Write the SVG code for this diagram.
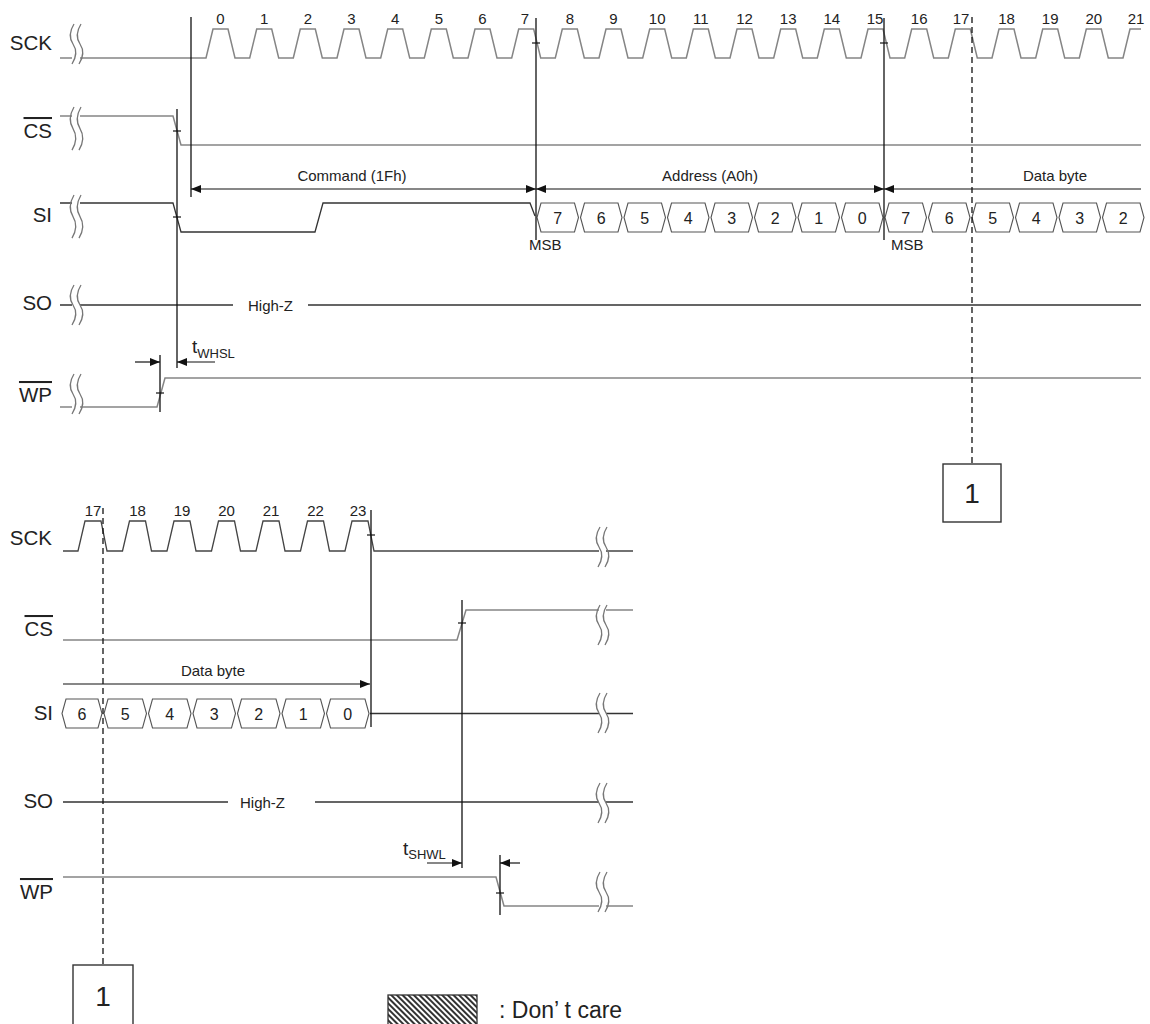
<svg xmlns="http://www.w3.org/2000/svg" xmlns:xlink="http://www.w3.org/1999/xlink" width="1150" height="1024" viewBox="0 0 1150 1024">
<style>
text{font-family:"Liberation Sans",Arial,sans-serif;fill:#222}
.lbl{font-size:20.5px;text-anchor:end}
.ov{text-decoration:overline}
.num{font-size:15px;text-anchor:middle}
.cap{font-size:15px}
.mid{text-anchor:middle}
.dig{font-size:16px;text-anchor:middle}
.gs{fill:none;stroke:#858585;stroke-width:1.5}
.ds{fill:none;stroke:#333;stroke-width:1.3}
.cell{fill:#fff;stroke:#555;stroke-width:1.1}
.brk{fill:none;stroke:#777;stroke-width:1.3}
.vl{stroke:#111;stroke-width:1.3;fill:none}
.tk{stroke:#111;stroke-width:1.2}
.dash{stroke:#111;stroke-width:1.3;stroke-dasharray:6 4;fill:none}
.arr{stroke:#111;stroke-width:1.2;fill:none}
.box{fill:#fff;stroke:#333;stroke-width:1.4}
</style>
<defs>
<marker id="ah" viewBox="0 0 10 8" markerWidth="10" markerHeight="8" refX="10" refY="4" orient="auto-start-reverse" markerUnits="userSpaceOnUse">
<path d="M0,0 L10,4 L0,8 z" fill="#111"/>
</marker>
<path id="brk" d="M4,0 C-1,8 -1,14 3,20 C7,26 7,32 2,40"/>
<pattern id="hatch" width="4" height="4" patternUnits="userSpaceOnUse" patternTransform="rotate(-45)">
<rect width="4" height="4" fill="#fff"/>
<rect width="2" height="4" fill="#333"/>
</pattern>
</defs>
<rect width="1150" height="1024" fill="#fff"/>

<!-- ===== TOP SECTION ===== -->
<g id="sck-top">
<text class="lbl" x="52" y="50">SCK</text>
<path class="gs" d="M60,58 L72,58 M80,58 L206,58 L213,29 L228,29 L235,58 L249.7,58 L256.7,29 L271.7,29 L278.7,58 L293.3,58 L300.3,29 L315.3,29 L322.3,58 L337,58 L344,29 L359,29 L366,58 L380.7,58 L387.7,29 L402.7,29 L409.7,58 L424.3,58 L431.3,29 L446.3,29 L453.3,58 L468,58 L475,29 L490,29 L497,58 L511.7,58 L518.7,29 L533.7,29 L540.7,58 L555.3,58 L562.3,29 L577.3,29 L584.3,58 L599,58 L606,29 L621,29 L628,58 L642.7,58 L649.7,29 L664.7,29 L671.7,58 L686.3,58 L693.3,29 L708.3,29 L715.3,58 L730,58 L737,29 L752,29 L759,58 L773.7,58 L780.7,29 L795.7,29 L802.7,58 L817.3,58 L824.3,29 L839.3,29 L846.3,58 L861,58 L868,29 L883,29 L890,58 L904.7,58 L911.7,29 L926.7,29 L933.7,58 L948.3,58 L955.3,29 L970.3,29 L977.3,58 L992,58 L999,29 L1014,29 L1021,58 L1035.7,58 L1042.7,29 L1057.7,29 L1064.7,58 L1079.3,58 L1086.3,29 L1101.3,29 L1108.3,58 L1123,58 L1130,29 L1141,29"/>
<use xlink:href="#brk" class="brk" transform="translate(70,24)"/>
<use xlink:href="#brk" class="brk" transform="translate(77,24)"/>
<text class="num" x="220.5" y="24">0</text>
<text class="num" x="264.2" y="24">1</text>
<text class="num" x="307.8" y="24">2</text>
<text class="num" x="351.5" y="24">3</text>
<text class="num" x="395.2" y="24">4</text>
<text class="num" x="438.8" y="24">5</text>
<text class="num" x="482.5" y="24">6</text>
<text class="num" x="525" y="24">7</text>
<text class="num" x="569.8" y="24">8</text>
<text class="num" x="613.5" y="24">9</text>
<text class="num" x="657.2" y="24">10</text>
<text class="num" x="700.8" y="24">11</text>
<text class="num" x="744.5" y="24">12</text>
<text class="num" x="788.2" y="24">13</text>
<text class="num" x="831.8" y="24">14</text>
<text class="num" x="875" y="24">15</text>
<text class="num" x="919.2" y="24">16</text>
<text class="num" x="961" y="24">17</text>
<text class="num" x="1006.5" y="24">18</text>
<text class="num" x="1050.2" y="24">19</text>
<text class="num" x="1093.8" y="24">20</text>
<text class="num" x="1136" y="24">21</text>
</g>

<g id="cs-top">
<text class="lbl ov" x="52" y="138">CS</text>
<path class="gs" d="M60,116 L72,116 M80,116 L173,116 L181,145 L1141,145"/>
<use xlink:href="#brk" class="brk" transform="translate(70,107) scale(1,1.08)"/>
<use xlink:href="#brk" class="brk" transform="translate(77,107) scale(1,1.08)"/>
</g>

<g id="si-top">
<text class="lbl" x="52" y="222">SI</text>
<path class="ds" d="M60,203 L72,203 M80,203 L173,203 L181,232 L315,232 L323,203 L530,203 L535,216"/>
<use xlink:href="#brk" class="brk" transform="translate(70,195) scale(1,1.08)"/>
<use xlink:href="#brk" class="brk" transform="translate(77,195) scale(1,1.08)"/>
<polygon class="cell" points="537,217.5 541,203 574.5,203 578.5,217.5 574.5,232 541,232"/>
<polygon class="cell" points="580.5,217.5 584.5,203 618,203 622,217.5 618,232 584.5,232"/>
<polygon class="cell" points="624,217.5 628,203 661.5,203 665.5,217.5 661.5,232 628,232"/>
<polygon class="cell" points="667.5,217.5 671.5,203 705,203 709,217.5 705,232 671.5,232"/>
<polygon class="cell" points="711,217.5 715,203 748.5,203 752.5,217.5 748.5,232 715,232"/>
<polygon class="cell" points="754.5,217.5 758.5,203 792,203 796,217.5 792,232 758.5,232"/>
<polygon class="cell" points="798,217.5 802,203 835.5,203 839.5,217.5 835.5,232 802,232"/>
<polygon class="cell" points="841.5,217.5 845.5,203 879,203 883,217.5 879,232 845.5,232"/>
<polygon class="cell" points="885,217.5 889,203 922.5,203 926.5,217.5 922.5,232 889,232"/>
<polygon class="cell" points="928.5,217.5 932.5,203 966,203 970,217.5 966,232 932.5,232"/>
<polygon class="cell" points="972,217.5 976,203 1009.5,203 1013.5,217.5 1009.5,232 976,232"/>
<polygon class="cell" points="1015.5,217.5 1019.5,203 1053,203 1057,217.5 1053,232 1019.5,232"/>
<polygon class="cell" points="1059,217.5 1063,203 1096.5,203 1100.5,217.5 1096.5,232 1063,232"/>
<polygon class="cell" points="1102.5,217.5 1106.5,203 1140,203 1144,217.5 1140,232 1106.5,232"/>
<text class="dig" x="557.8" y="224">7</text>
<text class="dig" x="601.3" y="224">6</text>
<text class="dig" x="644.8" y="224">5</text>
<text class="dig" x="688.3" y="224">4</text>
<text class="dig" x="731.8" y="224">3</text>
<text class="dig" x="775.3" y="224">2</text>
<text class="dig" x="818.8" y="224">1</text>
<text class="dig" x="862.3" y="224">0</text>
<text class="dig" x="905.8" y="224">7</text>
<text class="dig" x="949.3" y="224">6</text>
<text class="dig" x="992.8" y="224">5</text>
<text class="dig" x="1036.3" y="224">4</text>
<text class="dig" x="1079.8" y="224">3</text>
<text class="dig" x="1123.3" y="224">2</text>
<text class="cap" x="529" y="250" font-size="14">MSB</text>
<text class="cap" x="891" y="250" font-size="14">MSB</text>
</g>

<g id="so-top">
<text class="lbl" x="52" y="310">SO</text>
<path class="ds" d="M60,305 L72,305 M80,305 L233,305 M308,305 L1141,305"/>
<use xlink:href="#brk" class="brk" transform="translate(70,285)"/>
<use xlink:href="#brk" class="brk" transform="translate(77,285)"/>
<text class="cap" x="248" y="311">High-Z</text>
</g>

<g id="wp-top">
<text class="lbl ov" x="52" y="402">WP</text>
<path class="gs" d="M60,407 L72,407 M80,407 L157,407 L165,378 L1141,378"/>
<use xlink:href="#brk" class="brk" transform="translate(70,374)"/>
<use xlink:href="#brk" class="brk" transform="translate(77,374)"/>
</g>

<g id="box1-top">
<rect class="box" x="943" y="464" width="58" height="58"/>
<text x="972" y="503" font-size="28" text-anchor="middle">1</text>
</g>

<!-- ===== BOTTOM SECTION ===== -->
<g id="sck-bot">
<text class="lbl" x="52" y="545">SCK</text>
<path class="ds" style="stroke:#444" d="M63,551 L78,551 L85,521 L101,521 L107,551 L122.5,551 L129.5,521 L145.5,521 L151.5,551 L167,551 L174,521 L190,521 L196,551 L211.5,551 L218.5,521 L234.5,521 L240.5,551 L256,551 L263,521 L279,521 L285,551 L300.5,551 L307.5,521 L323.5,521 L329.5,551 L345,551 L352,521 L368,521 L374,551 L599,551 M606,551 L633,551"/>
<use xlink:href="#brk" class="brk" transform="translate(596,527)"/>
<use xlink:href="#brk" class="brk" transform="translate(603,527)"/>
<text class="num" x="93" y="516">17</text>
<text class="num" x="137.5" y="516">18</text>
<text class="num" x="182" y="516">19</text>
<text class="num" x="226.5" y="516">20</text>
<text class="num" x="271" y="516">21</text>
<text class="num" x="315.5" y="516">22</text>
<text class="num" x="358" y="516">23</text>
</g>

<g id="cs-bot">
<text class="lbl ov" x="53" y="636">CS</text>
<path class="gs" d="M63,640 L457,640 L466,610 L599,610 M606,610 L633,610"/>
<use xlink:href="#brk" class="brk" transform="translate(596,605)"/>
<use xlink:href="#brk" class="brk" transform="translate(603,605)"/>
</g>

<g id="si-bot">
<text class="lbl" x="53" y="720">SI</text>
<polygon class="cell" points="62,713.5 66,699 98,699 102,713.5 98,728 66,728"/>
<polygon class="cell" points="104,713.5 108,699 142.5,699 146.5,713.5 142.5,728 108,728"/>
<polygon class="cell" points="148.5,713.5 152.5,699 187,699 191,713.5 187,728 152.5,728"/>
<polygon class="cell" points="193,713.5 197,699 231.5,699 235.5,713.5 231.5,728 197,728"/>
<polygon class="cell" points="237.5,713.5 241.5,699 276,699 280,713.5 276,728 241.5,728"/>
<polygon class="cell" points="282,713.5 286,699 320.5,699 324.5,713.5 320.5,728 286,728"/>
<polygon class="cell" points="326.5,713.5 330.5,699 365,699 369,713.5 365,728 330.5,728"/>
<text class="dig" x="82" y="720">6</text>
<text class="dig" x="125.3" y="720">5</text>
<text class="dig" x="169.8" y="720">4</text>
<text class="dig" x="214.3" y="720">3</text>
<text class="dig" x="258.8" y="720">2</text>
<text class="dig" x="303.3" y="720">1</text>
<text class="dig" x="347.8" y="720">0</text>
<path class="ds" d="M370,713.5 L599,713.5 M606,713.5 L633,713.5"/>
<use xlink:href="#brk" class="brk" transform="translate(596,693)"/>
<use xlink:href="#brk" class="brk" transform="translate(603,693)"/>
</g>

<g id="so-bot">
<text class="lbl" x="53" y="808">SO</text>
<path class="ds" d="M63,802 L228,802 M315,802 L599,802 M606,802 L633,802"/>
<use xlink:href="#brk" class="brk" transform="translate(596,783)"/>
<use xlink:href="#brk" class="brk" transform="translate(603,783)"/>
<text class="cap" x="240" y="808">High-Z</text>
</g>

<g id="wp-bot">
<text class="lbl ov" x="53" y="899">WP</text>
<path class="gs" d="M63,877 L496,877 L504,906 L599,906 M606,906 L633,906"/>
<use xlink:href="#brk" class="brk" transform="translate(596,872)"/>
<use xlink:href="#brk" class="brk" transform="translate(603,872)"/>
</g>

<g id="box1-bot">
<rect class="box" x="73" y="965" width="60" height="70"/>
<text x="103" y="1006" font-size="28" text-anchor="middle">1</text>
</g>

<g id="legend">
<rect x="388" y="995" width="89" height="40" fill="url(#hatch)" stroke="#333" stroke-width="1.3"/>
<text x="499" y="1018" font-size="23">: Don’ t care</text>
</g>

<!-- ===== CONNECTORS ===== -->
<g id="connectors">
<line class="vl" x1="191" y1="17" x2="191" y2="197"/>
<line class="vl" x1="177" y1="109" x2="177" y2="368"/>
<line class="vl" x1="536" y1="18" x2="536" y2="240"/>
<line class="vl" x1="884" y1="18" x2="884" y2="240"/>
<line class="vl" x1="160" y1="355" x2="160" y2="412"/>
<line class="dash" x1="972" y1="17" x2="972" y2="464"/>
<line class="tk" x1="532" y1="43" x2="540" y2="43"/>
<line class="tk" x1="880" y1="43" x2="888" y2="43"/>
<line class="tk" x1="173" y1="131" x2="181" y2="131"/>
<line class="tk" x1="173" y1="217" x2="181" y2="217"/>
<line class="tk" x1="156" y1="393" x2="164" y2="393"/>
<line class="arr" x1="191" y1="189" x2="536" y2="189" marker-start="url(#ah)" marker-end="url(#ah)"/>
<line class="arr" x1="536" y1="189" x2="884" y2="189" marker-start="url(#ah)" marker-end="url(#ah)"/>
<line class="arr" x1="884" y1="189" x2="1141" y2="189" marker-start="url(#ah)"/>
<text class="cap mid" x="352" y="181">Command (1Fh)</text>
<text class="cap mid" x="710" y="181">Address (A0h)</text>
<text class="cap mid" x="1055" y="181">Data byte</text>
<line class="arr" x1="135" y1="362" x2="160" y2="362" marker-end="url(#ah)"/>
<line class="arr" x1="215" y1="362" x2="177" y2="362" marker-end="url(#ah)"/>
<text x="192" y="353" font-size="19">t<tspan font-size="13" y="358">WHSL</tspan></text>
<line class="vl" x1="371" y1="510" x2="371" y2="727"/>
<line class="vl" x1="462" y1="600" x2="462" y2="868"/>
<line class="vl" x1="500" y1="855" x2="500" y2="915"/>
<line class="dash" x1="103" y1="508" x2="103" y2="965"/>
<line class="tk" x1="367" y1="535" x2="375" y2="535"/>
<line class="tk" x1="458" y1="623" x2="466" y2="623"/>
<line class="tk" x1="496" y1="893" x2="504" y2="893"/>
<line class="arr" x1="63" y1="684" x2="370" y2="684" marker-end="url(#ah)"/>
<text class="cap mid" x="213" y="676">Data byte</text>
<line class="arr" x1="427" y1="863" x2="462" y2="863" marker-end="url(#ah)"/>
<line class="arr" x1="520" y1="863" x2="500" y2="863" marker-end="url(#ah)"/>
<text x="403" y="855" font-size="19">t<tspan font-size="13" y="859">SHWL</tspan></text>
</g>
</svg>
